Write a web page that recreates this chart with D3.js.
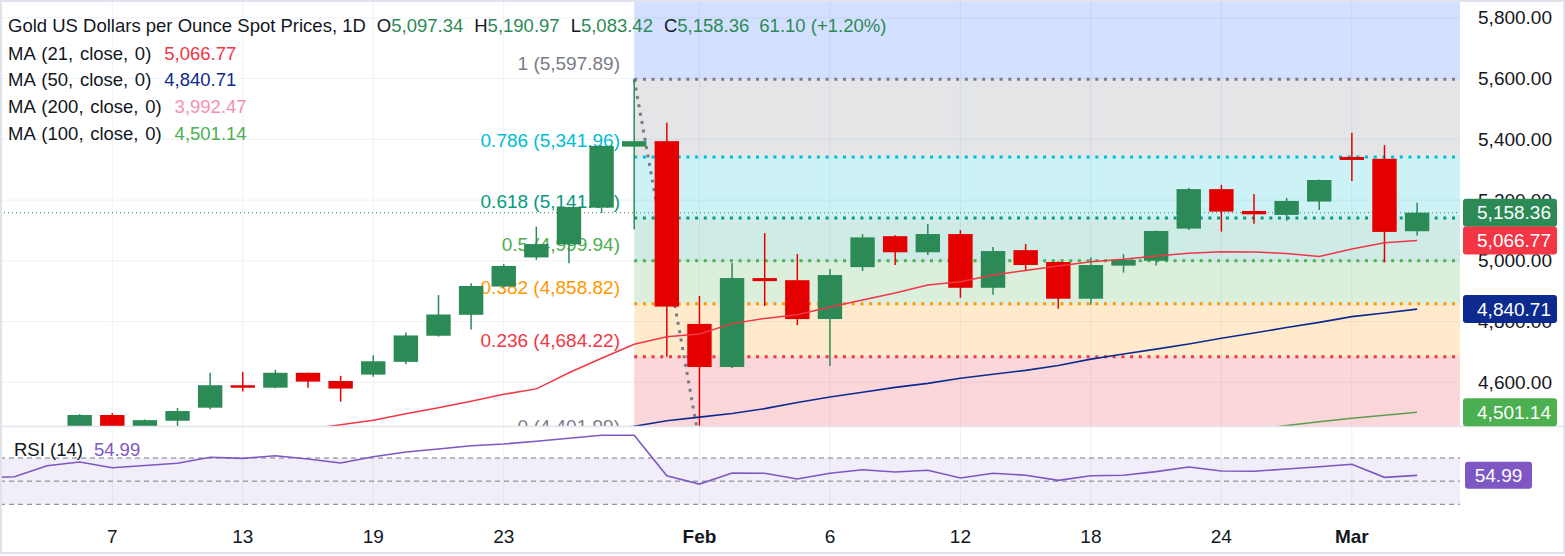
<!DOCTYPE html>
<html>
<head>
<meta charset="utf-8">
<script src="https://d3js.org/d3.v7.min.js"></script>
<style>
  body { margin: 0; background: #fff; }
  svg { display: block; font-family: 'Liberation Sans', Arial, sans-serif; }
</style>
</head>
<body>
<script>
// ---- data ----
var dates = ['2025-12-31','2026-01-02','2026-01-05','2026-01-06','2026-01-07','2026-01-08','2026-01-09',
  '2026-01-12','2026-01-13','2026-01-14','2026-01-15','2026-01-16','2026-01-19','2026-01-20','2026-01-21',
  '2026-01-22','2026-01-23','2026-01-26','2026-01-27','2026-01-28','2026-01-29','2026-01-30','2026-02-02',
  '2026-02-03','2026-02-04','2026-02-05','2026-02-06','2026-02-09','2026-02-10','2026-02-11','2026-02-12',
  '2026-02-13','2026-02-16','2026-02-17','2026-02-18','2026-02-19','2026-02-20','2026-02-23','2026-02-24',
  '2026-02-25','2026-02-26','2026-02-27','2026-03-02','2026-03-03','2026-03-04'];

var openP  = [4340,4318,4332,4447,4492,4450,4473,4516,4590,4582,4631,4604,4625,4667,4753,4822,4915,5011,5054,
  5175,5376,5394,4792,4650,4943,4936,4808,4979,5081,5028,5088,4911,5035,4996,4875,4984,5000,5106,5236,5164,
  5151,5195,5342,5336,5097.34];
var highP  = [4350,4403,4449,4495,4498,4477,4515,4631,4634,4641,4631,4621,4689,4764,4887,4926,4989,5112,5178,
  5380,5597.89,5455,4884,4993,5091,5022,4973,5088,5084,5121,5101,5045,5055,4998,5011,5022,5100,5240,5250,5220,
  5207,5268,5422,5381,5190.97];
var lowP   = [4275,4310,4330,4420,4425,4420,4440,4511,4569,4580,4582,4536,4618,4659,4750,4774,4912,5003,4992,
  5158,5103,4684,4401.99,4647,4851,4788,4653,4966,4986,5019,4878,4888,4966,4842,4855,4961,4984,5101,5096,5122,
  5132,5167,5263,4995,5083.42];
var closeP = [4318,4330,4440,4492,4454,4475,4505,4590,4582,4631,4602,4579,4669,4754,4823,4917,4983,5055,5177,
  5378,5394,4849,4650,4943,4933,4808,4953,5077,5028,5088,4911,5032,4986,4875,4986,5003,5098,5236,5162,5153,
  5197,5266,5332,5095,5158.36];

var ma21 = [null,null,null,null,null,null,null,null,null,4432,4445,4460,4475,4496,4516,4537,4560,4578,4631,
  4679,4725,4750,4759,4793,4810,4822,4848,4871,4894,4920,4931,4953,4968,4983,4997,5005,5016,5025,5030,5029,
  5024,5014,5039,5059,5066.77];
var ma50 = [null,null,null,null,null,null,null,null,null,null,null,null,null,null,null,null,null,4410,4425,
  4440,4455,4473,4485,4497,4513,4533,4551,4567,4583,4596,4613,4626,4639,4655,4676,4693,4709,4726,4745,4762,
  4780,4797,4816,4828,4840.71];
var ma100 = [null,null,null,null,null,null,null,null,null,null,null,null,null,null,null,null,null,null,null,
  null,null,null,null,null,null,null,null,null,null,null,null,null,null,null,null,null,null,null,4430,4445,
  4457,4470,4481,4491,4501.14];

var rsi = [52.7,53.8,63.3,66.5,61.6,63.5,65.4,70.6,69.7,72.0,69.1,65.7,71.1,75.2,77.8,80.6,82.1,84.5,87.0,
  89.6,89.6,54.7,47.5,57.0,56.8,51.9,56.8,59.9,57.9,59.4,52.7,56.8,55.1,50.7,54.7,55.1,58.2,62.2,58.8,58.5,
  60.5,62.5,64.6,53.3,54.99];

var fibRatios = ['0','0.236','0.382','0.5','0.618','0.786','1'];
var fibPrices = [4401.99,4684.22,4858.82,4999.94,5141.07,5341.96,5597.89];
var fibStart = '2026-01-29';
var trendFrom = {date: '2026-01-29', price: 5597.89};
var trendTo = {date: '2026-02-02', price: 4401.99};

var priceTicks = [4600,4800,5000,5200,5400,5600,5800];
var timeTicks = ['2026-01-07','2026-01-13','2026-01-19','2026-01-23','2026-02-02','2026-02-06',
  '2026-02-12','2026-02-18','2026-02-24','2026-03-02'];
var timeTickLabels = ['7','13','19','23','Feb','6','12','18','24','Mar'];

var rsiLevels = [70,50,30];

var header = {title: 'Gold US Dollars per Ounce Spot Prices, 1D', o: '5,097.34', h: '5,190.97',
  l: '5,083.42', c: '5,158.36', chg: '61.10 (+1.20%)'};
var legendNames = ['MA (21, close, 0)','MA (50, close, 0)','MA (200, close, 0)','MA (100, close, 0)'];
var legendValues = ['5,066.77','4,840.71','3,992.47','4,501.14'];

// ---- styles ----
var UP = '#2c8a56', DOWN = '#e50000';
var fibColors = ['#787b86','#f23645','#ff9800','#4caf50','#089981','#00bcd4','#787b86'];
var zoneColors = ['#f23645','#ff9800','#4caf50','#089981','#00bcd4','#787b86','#2962ff'];
var legendColors = ['#f23645','#0d2a8f','#f48fb1','#4caf50'];
var TXT = '#131722', GRID = '#eef1f6';
var FS = 19, FSH = 18.5;

var W = 1565, H = 556;
var plotR = 1460, mainB = 426, rsiT = 427, rsiB = 517;

var svg = d3.select('body').append('svg')
  .attr('width', W).attr('height', H);

var x = d3.scalePoint().domain(dates).range([-18.2, 1417.1]);
var y = d3.scaleLinear().domain([4600, 5800]).range([382.2, 17.9]);
var yR = d3.scaleLinear().domain([30, 70]).range([504.3, 458]);

var defs = svg.append('defs');
defs.append('clipPath').attr('id', 'clipMain')
  .append('rect').attr('x', 0).attr('y', 0).attr('width', plotR).attr('height', mainB);
defs.append('clipPath').attr('id', 'clipRsi')
  .append('rect').attr('x', 0).attr('y', rsiT).attr('width', plotR).attr('height', rsiB - rsiT);

/** grid **/
var grid = svg.append('g');
grid.selectAll('.hg').data(priceTicks).enter().append('line')
  .attr('x1', 0).attr('x2', plotR)
  .attr('y1', function(d) { return y(d); }).attr('y2', function(d) { return y(d); })
  .attr('stroke', GRID);
grid.selectAll('.vg').data(timeTicks).enter().append('line')
  .attr('x1', function(d) { return x(d); }).attr('x2', function(d) { return x(d); })
  .attr('y1', 0).attr('y2', 512)
  .attr('stroke', GRID);

/** main pane **/
var main = svg.append('g').attr('clip-path', 'url(#clipMain)');

// fib zones
var zx0 = x(fibStart);
zoneColors.forEach(function(c, i) {
  var top = i < fibPrices.length - 1 ? y(fibPrices[i + 1]) : 0;
  main.append('rect')
    .attr('x', zx0).attr('width', plotR - zx0)
    .attr('y', top).attr('height', y(fibPrices[i]) - top)
    .attr('fill', c).attr('fill-opacity', 0.2);
});

// fib lines + labels
fibPrices.forEach(function(p, i) {
  main.append('line')
    .attr('x1', zx0).attr('x2', plotR)
    .attr('y1', y(p)).attr('y2', y(p))
    .attr('stroke', fibColors[i]).attr('stroke-width', 3)
    .attr('stroke-dasharray', '3,5.7');
  main.append('text')
    .attr('x', 620).attr('y', y(p) - 9.5)
    .attr('text-anchor', 'end')
    .attr('font-size', FS)
    .attr('fill', fibColors[i])
    .text(fibRatios[i] + ' (' + d3.format(',.2f')(p) + ')');
});

// last price dotted line
main.append('line')
  .attr('x1', 0).attr('x2', plotR)
  .attr('y1', y(closeP[closeP.length - 1])).attr('y2', y(closeP[closeP.length - 1]))
  .attr('stroke', UP).attr('stroke-width', 1).attr('stroke-dasharray', '1,3');

// trend line
main.append('line')
  .attr('x1', x(trendFrom.date)).attr('y1', y(trendFrom.price))
  .attr('x2', x(trendTo.date)).attr('y2', y(trendTo.price))
  .attr('stroke', '#787b86').attr('stroke-width', 3)
  .attr('stroke-dasharray', '3,5.5');

// candles
var bars = dates.map(function(d, i) {
  return {date: d, o: openP[i], h: highP[i], l: lowP[i], c: closeP[i]};
});
var cg = main.append('g').selectAll('g').data(bars).enter().append('g');
cg.append('line')
  .attr('x1', function(d) { return x(d.date); }).attr('x2', function(d) { return x(d.date); })
  .attr('y1', function(d) { return y(d.h); }).attr('y2', function(d) { return y(d.l); })
  .attr('stroke', function(d) { return d.c >= d.o ? UP : DOWN; })
  .attr('stroke-width', 1.5);
cg.append('rect')
  .attr('x', function(d) { return x(d.date) - 12.2; })
  .attr('width', 24.4)
  .attr('y', function(d) { return y(Math.max(d.o, d.c)); })
  .attr('height', function(d) { return Math.max(2.5, Math.abs(y(d.o) - y(d.c))); })
  .attr('fill', function(d) { return d.c >= d.o ? UP : DOWN; });

// moving averages
function maLine(vals, color, w) {
  var line = d3.line()
    .defined(function(d) { return d != null; })
    .x(function(d, i) { return x(dates[i]); })
    .y(function(d) { return y(d); });
  main.append('path').datum(vals)
    .attr('d', line).attr('fill', 'none')
    .attr('stroke', color).attr('stroke-width', w);
}
maLine(ma100, '#5c9e4f', 1.5);
maLine(ma50, '#0d2a8f', 1.6);
maLine(ma21, '#f23645', 1.5);

// pane separator
svg.append('line').attr('x1', 0).attr('x2', W)
  .attr('y1', mainB + 0.5).attr('y2', mainB + 0.5)
  .attr('stroke', '#e0e3eb').attr('stroke-width', 1.5);

/** RSI pane **/
var rp = svg.append('g').attr('clip-path', 'url(#clipRsi)');
rp.append('rect')
  .attr('x', 0).attr('width', plotR)
  .attr('y', yR(70)).attr('height', yR(30) - yR(70))
  .attr('fill', '#7e57c2').attr('fill-opacity', 0.1);
rp.selectAll('.lv').data(rsiLevels).enter().append('line')
  .attr('x1', 0).attr('x2', plotR)
  .attr('y1', function(d) { return yR(d); }).attr('y2', function(d) { return yR(d); })
  .attr('stroke', '#787b86').attr('stroke-width', 1)
  .attr('stroke-dasharray', '5,4');
rp.append('path').datum(rsi)
  .attr('d', d3.line().x(function(d, i) { return x(dates[i]); }).y(function(d) { return yR(d); }))
  .attr('fill', 'none').attr('stroke', '#7e57c2').attr('stroke-width', 1.6);

/** texts **/
var hdr = svg.append('text').attr('x', 8).attr('y', 31.5).attr('font-size', FSH).attr('fill', TXT);
hdr.append('tspan').text(header.title);
[['O', header.o], ['H', header.h], ['L', header.l], ['C', header.c]].forEach(function(p) {
  hdr.append('tspan').attr('dx', 11).text(p[0]);
  hdr.append('tspan').attr('fill', UP).text(p[1]);
});
hdr.append('tspan').attr('dx', 10).attr('fill', UP).text(header.chg);

legendNames.forEach(function(n, i) {
  var t = svg.append('text').attr('x', 8).attr('y', 59.5 + i * 26.8)
    .attr('font-size', FSH).attr('fill', TXT);
  t.append('tspan').attr('word-spacing', 1.5).text(n);
  t.append('tspan').attr('dx', 13).attr('fill', legendColors[i]).text(legendValues[i]);
});

var rt = svg.append('text').attr('x', 14).attr('y', 456).attr('font-size', FSH).attr('fill', TXT);
rt.append('tspan').text('RSI (14)');
rt.append('tspan').attr('dx', 11).attr('fill', '#7e57c2').text(d3.format('.2f')(rsi[rsi.length - 1]));

// price axis
svg.append('g').selectAll('text').data(priceTicks).enter().append('text')
  .attr('x', 1552).attr('y', function(d) { return y(d) + 6.5; })
  .attr('text-anchor', 'end').attr('font-size', FS).attr('fill', TXT)
  .text(function(d) { return d3.format(',.2f')(d); });

// value boxes
var boxes = [
  {v: closeP[closeP.length - 1], c: UP},
  {v: ma21[ma21.length - 1], c: '#f23645'},
  {v: ma50[ma50.length - 1], c: '#0d2a8f'},
  {v: ma100[ma100.length - 1], c: '#4caf50'}
];
boxes.forEach(function(b) {
  var cy = y(b.v);
  svg.append('rect').attr('x', 1463).attr('y', cy - 14).attr('width', 94).attr('height', 28)
    .attr('rx', 3).attr('fill', b.c);
  svg.append('text').attr('x', 1551).attr('y', cy + 6.8)
    .attr('text-anchor', 'end').attr('font-size', FS).attr('fill', '#fff')
    .text(d3.format(',.2f')(b.v));
});
var rv = rsi[rsi.length - 1];
svg.append('rect').attr('x', 1465).attr('y', yR(rv) - 13.5).attr('width', 67).attr('height', 27)
  .attr('rx', 3).attr('fill', '#7e57c2');
svg.append('text').attr('x', 1498.5).attr('y', yR(rv) + 6.8)
  .attr('text-anchor', 'middle').attr('font-size', FS).attr('fill', '#fff')
  .text(d3.format('.2f')(rv));

// time axis
svg.append('g').selectAll('text').data(timeTicks).enter().append('text')
  .attr('x', function(d) { return x(d); }).attr('y', 542.5)
  .attr('text-anchor', 'middle').attr('font-size', FS).attr('fill', TXT)
  .attr('font-weight', function(d, i) { return isNaN(+timeTickLabels[i]) ? 'bold' : 'normal'; })
  .text(function(d, i) { return timeTickLabels[i]; });

// frame
svg.append('rect').attr('x', 1).attr('y', 1).attr('width', W - 2).attr('height', 552)
  .attr('fill', 'none').attr('stroke', '#e0e3eb').attr('stroke-width', 2);
</script>
</body>
</html>
